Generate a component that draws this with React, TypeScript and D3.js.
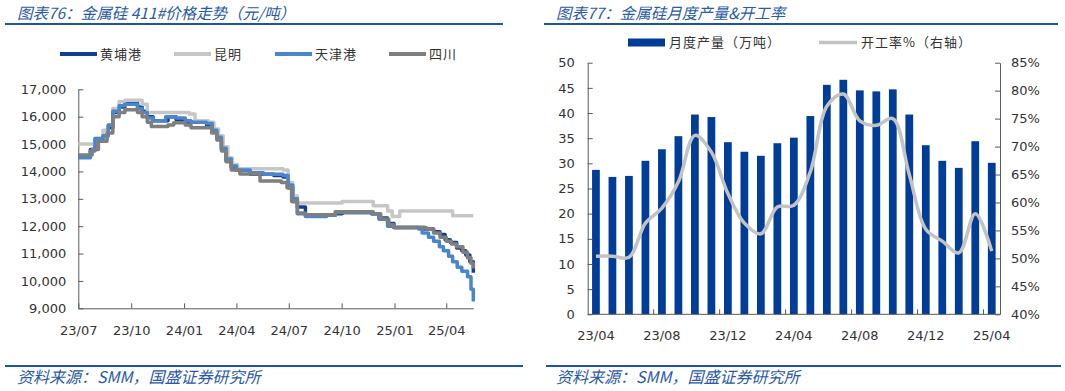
import React, { useEffect, useRef } from "react";
import * as d3 from "d3";

// ---- left chart: 金属硅 411# 价格 (元/吨), step points [date, value] ----
const priceNames = ["黄埔港", "昆明", "天津港", "四川"];
const priceColors = ["#123f94", "#c6c6c6", "#4a86cb", "#7f7f7f"];

const huangpu: [string, number][] = [
  ["2023-07-01", 14550], ["2023-07-22", 14800], ["2023-07-30", 15150], ["2023-08-13", 15300],
  ["2023-08-22", 15600], ["2023-08-30", 16150], ["2023-09-10", 16350], ["2023-09-20", 16500],
  ["2023-10-12", 16350], ["2023-10-20", 16200], ["2023-10-29", 16000], ["2023-11-08", 15850],
  ["2023-12-04", 16000], ["2023-12-18", 15900], ["2024-01-03", 15800], ["2024-02-09", 15700],
  ["2024-02-19", 15450], ["2024-02-27", 15200], ["2024-03-06", 14800], ["2024-03-14", 14400],
  ["2024-03-23", 14150], ["2024-04-01", 14050], ["2024-04-25", 13900], ["2024-06-05", 13850],
  ["2024-06-21", 13800], ["2024-06-30", 13400], ["2024-07-08", 12900], ["2024-07-16", 12700],
  ["2024-07-30", 12400], ["2024-09-20", 12450], ["2024-10-02", 12500], ["2024-11-22", 12450],
  ["2024-12-05", 12300], ["2024-12-20", 12100], ["2024-12-31", 11950], ["2025-02-22", 11900],
  ["2025-03-10", 11800], ["2025-03-21", 11700], ["2025-03-30", 11500], ["2025-04-08", 11400],
  ["2025-04-19", 11200], ["2025-04-28", 11100], ["2025-05-05", 10950], ["2025-05-12", 10700],
  ["2025-05-18", 10300],
];

const kunming: [string, number][] = [
  ["2023-07-01", 15000], ["2023-07-30", 15200], ["2023-08-13", 15500], ["2023-08-22", 15700],
  ["2023-08-30", 16300], ["2023-09-10", 16550], ["2023-09-20", 16600], ["2023-10-20", 16450],
  ["2023-10-29", 16150], ["2024-01-10", 16100], ["2024-01-20", 15850], ["2024-02-12", 15800],
  ["2024-02-22", 15550], ["2024-03-01", 15300], ["2024-03-09", 14900], ["2024-03-17", 14500],
  ["2024-03-25", 14250], ["2024-04-03", 14100], ["2024-06-21", 14050], ["2024-06-30", 13600],
  ["2024-07-08", 13100], ["2024-07-16", 12850], ["2024-10-02", 12900], ["2024-11-25", 12750],
  ["2024-12-20", 12550], ["2024-12-28", 12350], ["2025-01-10", 12550], ["2025-04-12", 12380],
  ["2025-05-18", 12380],
];

const tianjin: [string, number][] = [
  ["2023-07-01", 14500], ["2023-07-22", 14750], ["2023-07-30", 15200], ["2023-08-13", 15300],
  ["2023-08-22", 15700], ["2023-08-30", 16200], ["2023-09-10", 16400], ["2023-09-20", 16450],
  ["2023-10-12", 16300], ["2023-10-20", 16150], ["2023-10-29", 15950], ["2023-11-08", 15850],
  ["2023-11-30", 16000], ["2023-12-18", 15950], ["2024-01-03", 15850], ["2024-01-13", 15800],
  ["2024-02-09", 15750], ["2024-02-19", 15500], ["2024-02-27", 15250], ["2024-03-06", 14850],
  ["2024-03-14", 14450], ["2024-03-23", 14200], ["2024-04-01", 14050], ["2024-04-25", 13950],
  ["2024-05-18", 13900], ["2024-06-21", 13850], ["2024-06-30", 13500], ["2024-07-08", 13000],
  ["2024-07-16", 12450], ["2024-07-30", 12350], ["2024-09-05", 12400], ["2024-09-20", 12500],
  ["2024-11-22", 12450], ["2024-12-05", 12250], ["2024-12-20", 12000], ["2024-12-31", 11950],
  ["2025-02-12", 11900], ["2025-02-18", 11750], ["2025-03-01", 11600], ["2025-03-10", 11450],
  ["2025-03-20", 11250], ["2025-03-27", 11100], ["2025-04-05", 10900], ["2025-04-12", 10700],
  ["2025-04-20", 10500], ["2025-04-28", 10350], ["2025-05-08", 10150], ["2025-05-14", 9700],
  ["2025-05-18", 9250],
];

const sichuan: [string, number][] = [
  ["2023-07-01", 14600], ["2023-07-25", 14800], ["2023-08-05", 15100], ["2023-08-20", 15400],
  ["2023-08-30", 16000], ["2023-09-10", 16150], ["2023-09-20", 16250], ["2023-10-12", 16150],
  ["2023-10-20", 16000], ["2023-10-29", 15800], ["2023-11-05", 15640], ["2023-12-04", 15700],
  ["2023-12-14", 15780], ["2024-01-03", 15700], ["2024-01-13", 15600], ["2024-02-08", 15600],
  ["2024-02-18", 15400], ["2024-02-27", 15150], ["2024-03-06", 14750], ["2024-03-14", 14350],
  ["2024-03-23", 14050], ["2024-04-07", 13910], ["2024-05-12", 13650], ["2024-06-18", 13600],
  ["2024-06-28", 13400], ["2024-07-06", 12900], ["2024-07-16", 12480], ["2024-07-30", 12420],
  ["2024-09-20", 12530], ["2024-11-25", 12450], ["2024-12-08", 12250], ["2024-12-22", 12050],
  ["2024-12-31", 11950], ["2025-02-25", 11900], ["2025-03-10", 11750], ["2025-03-21", 11600],
  ["2025-04-01", 11450], ["2025-04-10", 11350], ["2025-04-19", 11250], ["2025-04-30", 11050],
  ["2025-05-08", 10850], ["2025-05-14", 10650], ["2025-05-18", 10450],
];

const priceTicks = [9000, 10000, 11000, 12000, 13000, 14000, 15000, 16000, 17000];
const priceDateTicks = ["2023-07-01", "2023-10-01", "2024-01-01", "2024-04-01", "2024-07-01",
  "2024-10-01", "2025-01-01", "2025-04-01"];

// ---- right chart: 月度产量 (万吨) & 开工率 (%) ----
const months = ["23/04", "23/05", "23/06", "23/07", "23/08", "23/09", "23/10", "23/11", "23/12",
  "24/01", "24/02", "24/03", "24/04", "24/05", "24/06", "24/07", "24/08", "24/09", "24/10",
  "24/11", "24/12", "25/01", "25/02", "25/03", "25/04"];
const monthlyOutput = [28.7, 27.3, 27.5, 30.5, 32.8, 35.4, 39.7, 39.2, 34.2, 32.3, 31.5, 34.0,
  35.1, 39.4, 45.6, 46.6, 44.5, 44.3, 44.7, 39.7, 33.6, 30.5, 29.1, 34.4, 30.1];
const operatingRate = [50.4, 50.4, 50.2, 56.3, 59.0, 63.7, 72.0, 69.0, 61.6, 56.3, 54.4, 59.2,
  59.5, 65.5, 77.2, 79.4, 74.6, 73.8, 75.0, 65.0, 55.2, 53.1, 51.0, 58.0, 51.3];
const outputTicks = [0, 5, 10, 15, 20, 25, 30, 35, 40, 45, 50];
const rateTicks = [40, 45, 50, 55, 60, 65, 70, 75, 80, 85];

const BLUE = "#2a5aa8";
const CJK = "'Noto Sans CJK SC', sans-serif";
const NUM = "'DejaVu Sans', sans-serif";

function styleAxis(g: any) {
  g.select(".domain").attr("stroke", "#5a5a5a").attr("stroke-width", 1);
  g.selectAll(".tick line").attr("stroke", "#5a5a5a");
  g.selectAll(".tick text").attr("fill", "#333").style("font-size", "13px").style("font-family", NUM);
}

export default function App() {
  const svgRef = useRef<SVGSVGElement>(null);

  useEffect(() => {
    const svg = d3.select(svgRef.current);
    svg.selectAll("*").remove();

    // headers and footers
    const headers = [
      { x: 17, line: [5, 503], text: "图表76：金属硅 411#价格走势（元/吨）" },
      { x: 556, line: [544, 1058], text: "图表77：金属硅月度产量&开工率" },
    ];
    headers.forEach((h) => {
      svg.append("text").attr("x", h.x).attr("y", 19).attr("fill", BLUE)
        .style("font-family", CJK).style("font-size", "15.5px").style("font-style", "italic")
        .text(h.text);
      svg.append("line").attr("x1", h.line[0]).attr("x2", h.line[1]).attr("y1", 24).attr("y2", 24)
        .attr("stroke", "#1f54a4").attr("stroke-width", 2);
    });
    const footers = [{ x: 17, line: [5, 523] }, { x: 556, line: [546, 1061] }];
    footers.forEach((f) => {
      svg.append("line").attr("x1", f.line[0]).attr("x2", f.line[1]).attr("y1", 366).attr("y2", 366)
        .attr("stroke", "#1f54a4").attr("stroke-width", 2);
      svg.append("text").attr("x", f.x).attr("y", 383).attr("fill", BLUE)
        .style("font-family", CJK).style("font-size", "16px").style("font-style", "italic")
        .text("资料来源：SMM，国盛证券研究所");
    });

    // ---------- left chart ----------
    const parse = d3.timeParse("%Y-%m-%d");
    const x = d3.scaleTime()
      .domain([parse("2023-07-01")!, parse("2025-05-18")!])
      .range([78.3, 473.3]);
    const y = d3.scaleLinear().domain([9000, 17000]).range([308.3, 89.3]);

    const left = svg.append("g");
    const yAxis = left.append("g").attr("transform", "translate(78.3,0)")
      .call(d3.axisLeft(y).tickValues(priceTicks).tickFormat(d3.format(",") as any)
        .tickSizeInner(-5).tickSizeOuter(0).tickPadding(12));
    styleAxis(yAxis);
    const xAxis = left.append("g").attr("transform", "translate(0,308.3)")
      .call(d3.axisBottom(x).tickValues(priceDateTicks.map((d) => parse(d)!))
        .tickFormat(d3.timeFormat("%y/%m") as any).tickSizeInner(-5).tickSizeOuter(0).tickPadding(17));
    styleAxis(xAxis);

    const line = d3.line<[string, number]>()
      .x((d) => x(parse(d[0])!))
      .y((d) => y(d[1]))
      .curve(d3.curveStepAfter);
    [huangpu, kunming, tianjin, sichuan].forEach((s, i) => {
      left.append("path").datum(s).attr("d", line).attr("fill", "none")
        .attr("stroke", priceColors[i]).attr("stroke-width", 3.5).attr("stroke-linejoin", "round");
    });

    const legendX = [60, 174, 275, 389];
    priceNames.forEach((name, i) => {
      left.append("line").attr("x1", legendX[i]).attr("x2", legendX[i] + 37)
        .attr("y1", 54).attr("y2", 54).attr("stroke", priceColors[i]).attr("stroke-width", 4);
      left.append("text").attr("x", legendX[i] + 40).attr("y", 58.5).attr("fill", "#333")
        .style("font-family", CJK).style("font-size", "13px").style("letter-spacing", "1px").text(name);
    });

    // ---------- right chart ----------
    const xb = d3.scaleBand<string>().domain(months).range([587.7, 1000])
      .paddingInner(0.53).paddingOuter(0.265);
    const yl = d3.scaleLinear().domain([0, 50]).range([314.3, 62.7]);
    const yr = d3.scaleLinear().domain([40, 85]).range([314.3, 62.7]);

    const right = svg.append("g");
    right.selectAll(".bar").data(monthlyOutput).enter().append("rect")
      .attr("x", (d, i) => xb(months[i])!)
      .attr("y", (d) => yl(d))
      .attr("width", xb.bandwidth())
      .attr("height", (d) => yl(0) - yl(d))
      .attr("fill", "#003d99");

    const rateLine = d3.line<number>()
      .x((d, i) => xb(months[i])! + xb.bandwidth() / 2)
      .y((d) => yr(d))
      .curve(d3.curveCatmullRom.alpha(0.5));
    right.append("path").datum(operatingRate).attr("d", rateLine).attr("fill", "none")
      .attr("stroke", "#c3c3c3").attr("stroke-width", 3.5);

    const ylAxis = right.append("g").attr("transform", "translate(587.7,0)")
      .call(d3.axisLeft(yl).tickValues(outputTicks).tickSizeInner(-5).tickSizeOuter(0).tickPadding(13));
    styleAxis(ylAxis);
    const yrAxis = right.append("g").attr("transform", "translate(1000,0)")
      .call(d3.axisRight(yr).tickValues(rateTicks).tickFormat((d: any) => `${d}%`)
        .tickSizeInner(-5).tickSizeOuter(0).tickPadding(11));
    styleAxis(yrAxis);

    const step = xb.step();
    const xbAxis = right.append("g").attr("transform", "translate(0,314.3)");
    xbAxis.append("line").attr("x1", 587.7).attr("x2", 1000).attr("stroke", "#5a5a5a");
    months.forEach((m, i) => {
      if (i % 4 !== 0) return;
      const cx = xb(m)! + xb.bandwidth() / 2;
      if (i > 0) {
        const bx = 587.7 + i * step;
        xbAxis.append("line").attr("x1", bx).attr("x2", bx).attr("y1", 0).attr("y2", -5).attr("stroke", "#5a5a5a");
      }
      xbAxis.append("text").attr("x", cx).attr("y", 26).attr("text-anchor", "middle").attr("fill", "#333")
        .style("font-size", "13px").style("font-family", NUM).text(m);
    });

    // legend
    right.append("rect").attr("x", 628).attr("y", 38.5).attr("width", 37).attr("height", 8).attr("fill", "#003d99");
    right.append("text").attr("x", 669).attr("y", 47).attr("fill", "#333")
      .style("font-family", CJK).style("font-size", "13px").style("letter-spacing", "1px").text("月度产量（万吨）");
    right.append("line").attr("x1", 819).attr("x2", 857).attr("y1", 42.5).attr("y2", 42.5)
      .attr("stroke", "#c3c3c3").attr("stroke-width", 3.5);
    right.append("text").attr("x", 861).attr("y", 47).attr("fill", "#333")
      .style("font-family", CJK).style("font-size", "13px").style("letter-spacing", "1px").text("开工率%（右轴）");
  }, []);

  return (
    <svg ref={svgRef} width={1065} height={391}
      style={{ position: "absolute", left: 0, top: 0, background: "#fff" }} />
  );
}
